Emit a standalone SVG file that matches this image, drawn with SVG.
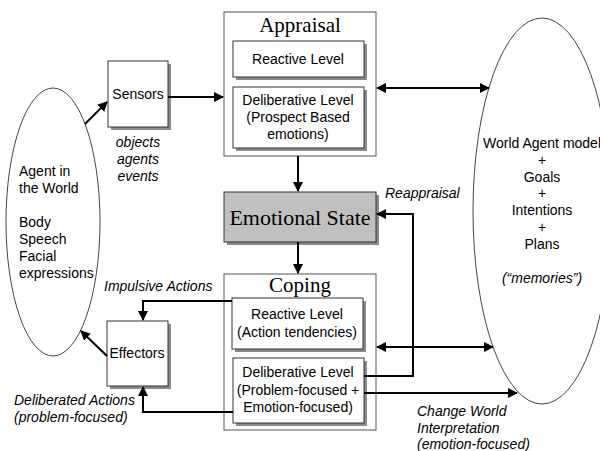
<svg xmlns="http://www.w3.org/2000/svg" width="600" height="451" viewBox="0 0 600 451">
<style>
.box{fill:#fff;stroke:#333;stroke-width:1}
.outer{fill:#fff;stroke:#555;stroke-width:1}
.sh{fill:#8a8a8a}
.t{font-family:"Liberation Sans",Arial,sans-serif;font-size:14px;fill:#000}
.c{text-anchor:middle}
.i{font-style:italic}
.s{font-family:"Liberation Serif","Times New Roman",serif;font-size:21px;fill:#000;text-anchor:middle}
.ln{fill:none;stroke:#000;stroke-width:2}
.ell{fill:none;stroke:#444;stroke-width:1}
</style>
<defs>
<marker id="ah" viewBox="0 0 10 10" refX="9" refY="5" markerWidth="5" markerHeight="5" orient="auto-start-reverse" markerUnits="strokeWidth">
<path d="M0,0 L10,5 L0,10 z" fill="#000"/>
</marker>
</defs>
<rect width="600" height="451" fill="#fff"/>

<g id="agent-world">
<ellipse class="ell" cx="53" cy="222" rx="47" ry="134"/>
<text class="t" x="19" y="176">Agent in</text>
<text class="t" x="19" y="193">the World</text>
<text class="t" x="19" y="227">Body</text>
<text class="t" x="19" y="244">Speech</text>
<text class="t" x="19" y="261">Facial</text>
<text class="t" x="19" y="278">expressions</text>
</g>

<g id="world-model">
<ellipse class="ell" cx="542" cy="211" rx="69" ry="193"/>
<text class="t c" x="542" y="148">World Agent model</text>
<text class="t c" x="542" y="165">+</text>
<text class="t c" x="542" y="182">Goals</text>
<text class="t c" x="542" y="198">+</text>
<text class="t c" x="542" y="215">Intentions</text>
<text class="t c" x="542" y="232">+</text>
<text class="t c" x="542" y="249">Plans</text>
<text class="t c i" x="542" y="283">(“memories”)</text>
</g>

<g id="sensors">
<rect class="sh" x="111" y="64" width="60" height="66"/>
<rect class="box" x="108" y="61" width="60" height="66"/>
<text class="t c" x="138" y="99">Sensors</text>
<text class="t c i" x="138" y="147">objects</text>
<text class="t c i" x="138" y="164">agents</text>
<text class="t c i" x="138" y="181">events</text>
</g>

<g id="effectors">
<rect class="sh" x="110" y="324" width="61" height="65"/>
<rect class="box" x="107" y="321" width="61" height="65"/>
<text class="t c" x="137" y="358">Effectors</text>
</g>

<g id="appraisal">
<rect class="outer" x="224" y="12" width="152" height="144"/>
<text class="s" x="300" y="32">Appraisal</text>
<rect class="sh" x="236" y="44" width="131" height="36"/>
<rect class="box" x="233" y="41" width="131" height="36"/>
<text class="t c" x="298" y="64">Reactive Level</text>
<rect class="sh" x="236" y="90" width="131" height="61"/>
<rect class="box" x="233" y="87" width="131" height="61"/>
<text class="t c" x="298" y="105">Deliberative Level</text>
<text class="t c" x="298" y="122">(Prospect Based</text>
<text class="t c" x="298" y="139">emotions)</text>
</g>

<g id="emotional-state">
<rect class="sh" x="227" y="195" width="152" height="50"/>
<rect x="224" y="192" width="152" height="50" fill="#c0c0c0" stroke="#333" stroke-width="1"/>
<text class="s" x="300" y="225" style="font-size:22px">Emotional State</text>
</g>

<g id="coping">
<rect class="outer" x="224" y="274" width="152" height="156"/>
<text class="s" x="300" y="292">Coping</text>
<rect class="sh" x="235" y="301" width="131" height="51"/>
<rect class="box" x="232" y="298" width="131" height="51"/>
<text class="t c" x="297" y="319">Reactive Level</text>
<text class="t c" x="297" y="337">(Action tendencies)</text>
<rect class="sh" x="236" y="361" width="131" height="65"/>
<rect class="box" x="233" y="358" width="131" height="65"/>
<text class="t c" x="298" y="377">Deliberative Level</text>
<text class="t c" x="298" y="395">(Problem-focused +</text>
<text class="t c" x="298" y="412">Emotion-focused)</text>
</g>

<g id="connectors">
<line class="ln" x1="85" y1="124" x2="107" y2="102" marker-end="url(#ah)"/>
<line class="ln" x1="168" y1="97" x2="223" y2="97" marker-end="url(#ah)"/>
<line class="ln" x1="377" y1="88" x2="489" y2="88" marker-start="url(#ah)" marker-end="url(#ah)"/>
<line class="ln" x1="298" y1="156" x2="298" y2="191" marker-end="url(#ah)"/>
<line class="ln" x1="298" y1="242" x2="298" y2="273" marker-end="url(#ah)"/>
<polyline class="ln" points="364,376 413,376 413,214 377,214" marker-end="url(#ah)"/>
<text class="t i" x="385" y="198">Reappraisal</text>
<line class="ln" x1="377" y1="347" x2="493" y2="347" marker-start="url(#ah)" marker-end="url(#ah)"/>
<line class="ln" x1="364" y1="393" x2="517" y2="393" marker-end="url(#ah)"/>
<text class="t i" x="417" y="416">Change World</text>
<text class="t i" x="417" y="433">Interpretation</text>
<text class="t i" x="417" y="449">(emotion-focused)</text>
<polyline class="ln" points="232,301 143,301 143,320" marker-end="url(#ah)"/>
<text class="t i" x="104" y="291">Impulsive Actions</text>
<polyline class="ln" points="233,412 143,412 143,387" marker-end="url(#ah)"/>
<text class="t i" x="14" y="405">Deliberated Actions</text>
<text class="t i" x="14" y="422">(problem-focused)</text>
<line class="ln" x1="107" y1="356" x2="81" y2="331" marker-end="url(#ah)"/>
</g>
</svg>
